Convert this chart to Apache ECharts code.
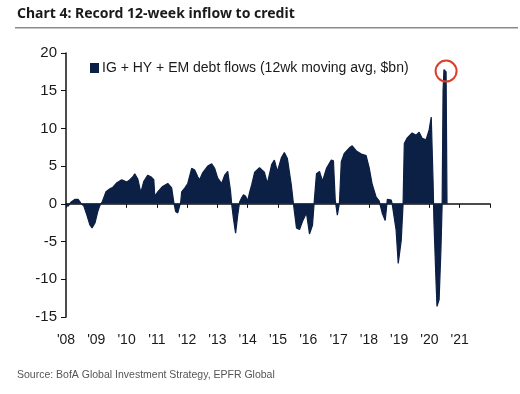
<!DOCTYPE html>
<html>
<head>
<meta charset="utf-8">
<script src="https://cdn.jsdelivr.net/npm/echarts@6/dist/echarts.min.js"></script>
<style>
html,body{margin:0;padding:0;background:#fff;}
#c{width:520px;height:394px;}
</style>
</head>
<body>
<div id="c"></div>
<script>
var years = [2008.00,2008.07,2008.16,2008.30,2008.40,2008.49,2008.59,2008.69,2008.79,2008.86,2008.96,2009.05,2009.12,2009.19,2009.25,2009.32,2009.45,2009.55,2009.68,2009.84,2010.01,2010.11,2010.21,2010.27,2010.37,2010.47,2010.57,2010.70,2010.80,2010.90,2010.93,2011.03,2011.19,2011.36,2011.49,2011.56,2011.62,2011.69,2011.75,2011.79,2011.82,2011.92,2012.02,2012.15,2012.25,2012.35,2012.41,2012.51,2012.68,2012.81,2012.91,2013.01,2013.14,2013.24,2013.34,2013.43,2013.47,2013.53,2013.60,2013.67,2013.73,2013.80,2013.86,2013.93,2014.00,2014.06,2014.13,2014.23,2014.39,2014.55,2014.65,2014.79,2014.88,2014.98,2015.11,2015.21,2015.31,2015.44,2015.51,2015.61,2015.71,2015.81,2015.94,2016.04,2016.14,2016.20,2016.27,2016.37,2016.47,2016.60,2016.76,2016.83,2016.89,2016.96,2017.03,2017.09,2017.19,2017.35,2017.45,2017.59,2017.75,2017.91,2018.01,2018.11,2018.24,2018.34,2018.44,2018.54,2018.61,2018.74,2018.77,2018.90,2018.97,2019.07,2019.13,2019.17,2019.26,2019.43,2019.56,2019.66,2019.76,2019.89,2019.99,2020.06,2020.12,2020.15,2020.22,2020.25,2020.32,2020.38,2020.42,2020.45,2020.48,2020.55,2020.58];
var flows = [-0.2,-0.3,0.2,0.6,0.6,0.1,-0.3,-1.5,-2.8,-3.2,-2.5,-1.0,-0.2,0.2,0.3,1.6,2.0,2.2,2.8,3.2,2.9,3.2,3.6,4.0,3.3,1.5,3.0,3.8,3.6,3.2,1.0,1.6,2.3,2.7,2.1,0.2,-1.0,-1.2,-1.0,0.3,1.6,2.1,2.7,4.7,4.5,3.6,3.2,4.1,5.0,5.3,4.7,3.4,2.7,3.8,4.3,1.8,0.0,-2.0,-3.9,-1.5,0.2,0.8,1.2,1.0,0.4,1.5,2.5,4.2,4.8,4.2,2.7,5.2,5.8,4.3,6.1,6.8,6.0,2.5,0.0,-3.2,-3.4,-2.3,-1.2,-4.0,-2.8,0.5,4.0,4.3,3.0,4.7,5.8,5.7,0.5,-1.5,0.2,5.6,6.7,7.4,7.7,7.0,6.6,6.4,4.8,2.6,0.9,0.4,-1.2,-2.2,0.6,0.5,0.0,-3.5,-7.9,-4.8,0.0,8.0,8.7,9.4,9.1,9.5,8.7,8.5,9.8,11.5,3.0,-2.5,-10.5,-13.6,-12.7,-6.0,0.0,15.0,17.8,17.5,0.0];
var xLabels = ["'08","'09","'10","'11","'12","'13","'14","'15","'16","'17","'18","'19","'20","'21"];
var yTicks = [-15,-10,-5,0,5,10,15,20];
var record = [2020.55, 17.6];

var navy = '#0c1f44';
var narrow = '"Liberation Sans Narrow","Arial Narrow","Liberation Sans",sans-serif';
var chart = echarts.init(document.getElementById('c'), null, {renderer:'canvas'});
var pts = years.map(function(y,i){return [y, flows[i]];});
chart.setOption({
  animation:false,
  backgroundColor:'#fff',
  grid:{left:66,right:30,top:53,bottom:77,containLabel:false},
  graphic:[
    {type:'text',left:17,top:7,style:{text:'Chart 4: Record 12-week inflow to credit',font:'bold 14px "Noto Sans",sans-serif',fill:'#1a1a1a'}},
    {type:'rect',shape:{x:15,y:27,width:503,height:1.5},style:{fill:'#8a8a8a'}},
    {type:'text',left:17,top:370,style:{text:'Source: BofA Global Investment Strategy, EPFR Global',font:'10.5px '+narrow,fill:'#555'}}
  ],
  legend:{show:true,left:85,top:56,icon:'rect',itemWidth:9,itemHeight:10,itemGap:4,
    textStyle:{fontFamily:narrow,fontSize:14,color:'#1a1a1a',padding:[0,0,0,-2]},
    data:['IG + HY + EM debt flows (12wk moving avg, $bn)']},
  xAxis:[
    {type:'value',min:2008,max:2022,interval:1,position:'bottom',
     axisLine:{show:false,onZero:false},axisTick:{show:false},splitLine:{show:false},
     axisLabel:{margin:16,fontFamily:narrow,fontSize:14,color:'#1a1a1a',showMaxLabel:false,
       formatter:function(v){var i=Math.round(v-2008);return xLabels[i]||'';}}},
    {type:'value',min:2008,max:2022,interval:1,position:'top',
     axisLine:{show:true,onZero:true,onZeroAxisIndex:0,lineStyle:{color:'#111',width:1.5}},
     axisTick:{show:true,inside:true,length:4,lineStyle:{color:'#111',width:1}},
     axisLabel:{show:false},splitLine:{show:false}}
  ],
  yAxis:{type:'value',min:yTicks[0],max:yTicks[yTicks.length-1],interval:5,
    axisLine:{show:true,lineStyle:{color:'#111',width:1.5}},
    axisTick:{show:true,length:5,lineStyle:{color:'#111',width:1}},
    splitLine:{show:false},
    axisLabel:{margin:9,fontFamily:narrow,fontSize:15,color:'#1a1a1a'}},
  series:[{
    name:'IG + HY + EM debt flows (12wk moving avg, $bn)',
    type:'line',xAxisIndex:0,data:pts,symbol:'none',smooth:false,
    itemStyle:{color:navy},
    lineStyle:{color:navy,width:1.2},
    areaStyle:{color:navy,opacity:1},
    z:3,
    markPoint:{symbol:'circle',symbolSize:21,silent:true,
      itemStyle:{color:'rgba(0,0,0,0)',borderColor:'#d8402c',borderWidth:2},
      label:{show:false},
      data:[{coord:record}]}
  }]
});
</script>
</body>
</html>
